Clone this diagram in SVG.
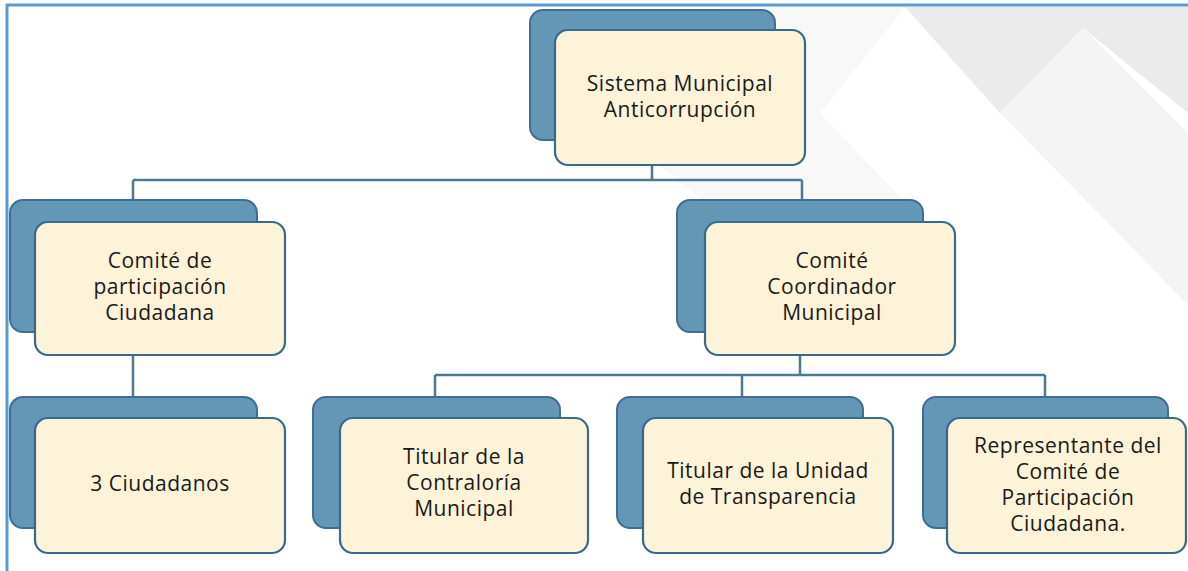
<svg xmlns="http://www.w3.org/2000/svg" width="1188" height="571" viewBox="0 0 1188 571">
<style>
.back{fill:#6496b6;stroke:#3f6f90;stroke-width:2}
.front{fill:#fcf3d8;stroke:#386a8c;stroke-width:2.2}
.lbl{font-family:"Open Sans","Liberation Sans",sans-serif;font-size:21px;letter-spacing:0.5px;fill:#1a1a1a;text-anchor:middle}
.conn{fill:none;stroke:#4d7893;stroke-width:2.5}
</style>
<rect x="0" y="0" width="1188" height="571" fill="#ffffff"/>
<g id="background">
<polygon points="720,7 905,7 820,113 960,260 780,260 600,120" fill="#f8f8f8"/>
<polygon points="905,7 1188,7 1188,113 1083,28 1000,113" fill="#ebebeb"/>
<polygon points="1000,113 1083,28 1188,133 1188,305" fill="#f4f4f4"/>
</g>
<g id="border" fill="none" stroke="#5b9bd5" stroke-width="3">
<line x1="6" y1="5" x2="1188" y2="5"/>
<line x1="7" y1="4" x2="7" y2="571"/>
</g>
<g id="connectors" class="conn">
<path d="M652 165 V180 M133 180 H802 M133 180 V200 M802 180 V200"/>
<path d="M133 355 V397"/>
<path d="M800 355 V375 M435 375 H1045 M435 375 V397 M742 375 V397 M1045 375 V397"/>
</g>
<g id="node-sma">
<rect class="back" x="530" y="10" width="245" height="130" rx="13"/>
<rect class="front" x="555" y="30" width="250" height="135" rx="13"/>
<text class="lbl"><tspan x="680" y="91">Sistema Municipal</tspan><tspan x="680" y="117">Anticorrupción</tspan></text>
</g>
<g id="node-cpc">
<rect class="back" x="10" y="200" width="247" height="132" rx="13"/>
<rect class="front" x="35" y="222" width="250" height="133" rx="13"/>
<text class="lbl"><tspan x="160" y="268">Comité de</tspan><tspan x="160" y="294">participación</tspan><tspan x="160" y="320">Ciudadana</tspan></text>
</g>
<g id="node-ccm">
<rect class="back" x="677" y="200" width="246" height="132" rx="13"/>
<rect class="front" x="705" y="222" width="250" height="133" rx="13"/>
<text class="lbl"><tspan x="832" y="268">Comité</tspan><tspan x="832" y="294">Coordinador</tspan><tspan x="832" y="320">Municipal</tspan></text>
</g>
<g id="node-ciudadanos">
<rect class="back" x="10" y="397" width="247" height="131" rx="13"/>
<rect class="front" x="35" y="418" width="250" height="135" rx="13"/>
<text class="lbl" x="160" y="491">3 Ciudadanos</text>
</g>
<g id="node-contraloria">
<rect class="back" x="313" y="397" width="247" height="131" rx="13"/>
<rect class="front" x="340" y="418" width="248" height="135" rx="13"/>
<text class="lbl"><tspan x="464" y="464">Titular de la</tspan><tspan x="464" y="490">Contraloría</tspan><tspan x="464" y="516">Municipal</tspan></text>
</g>
<g id="node-transparencia">
<rect class="back" x="617" y="397" width="246" height="131" rx="13"/>
<rect class="front" x="643" y="418" width="250" height="135" rx="13"/>
<text class="lbl"><tspan x="768" y="478">Titular de la Unidad</tspan><tspan x="768" y="504">de Transparencia</tspan></text>
</g>
<g id="node-representante">
<rect class="back" x="923" y="397" width="245" height="131" rx="13"/>
<rect class="front" x="947" y="418" width="239" height="135" rx="13"/>
<text class="lbl"><tspan x="1068" y="453">Representante del</tspan><tspan x="1068" y="479">Comité de</tspan><tspan x="1068" y="505">Participación</tspan><tspan x="1068" y="531">Ciudadana.</tspan></text>
</g>
</svg>
